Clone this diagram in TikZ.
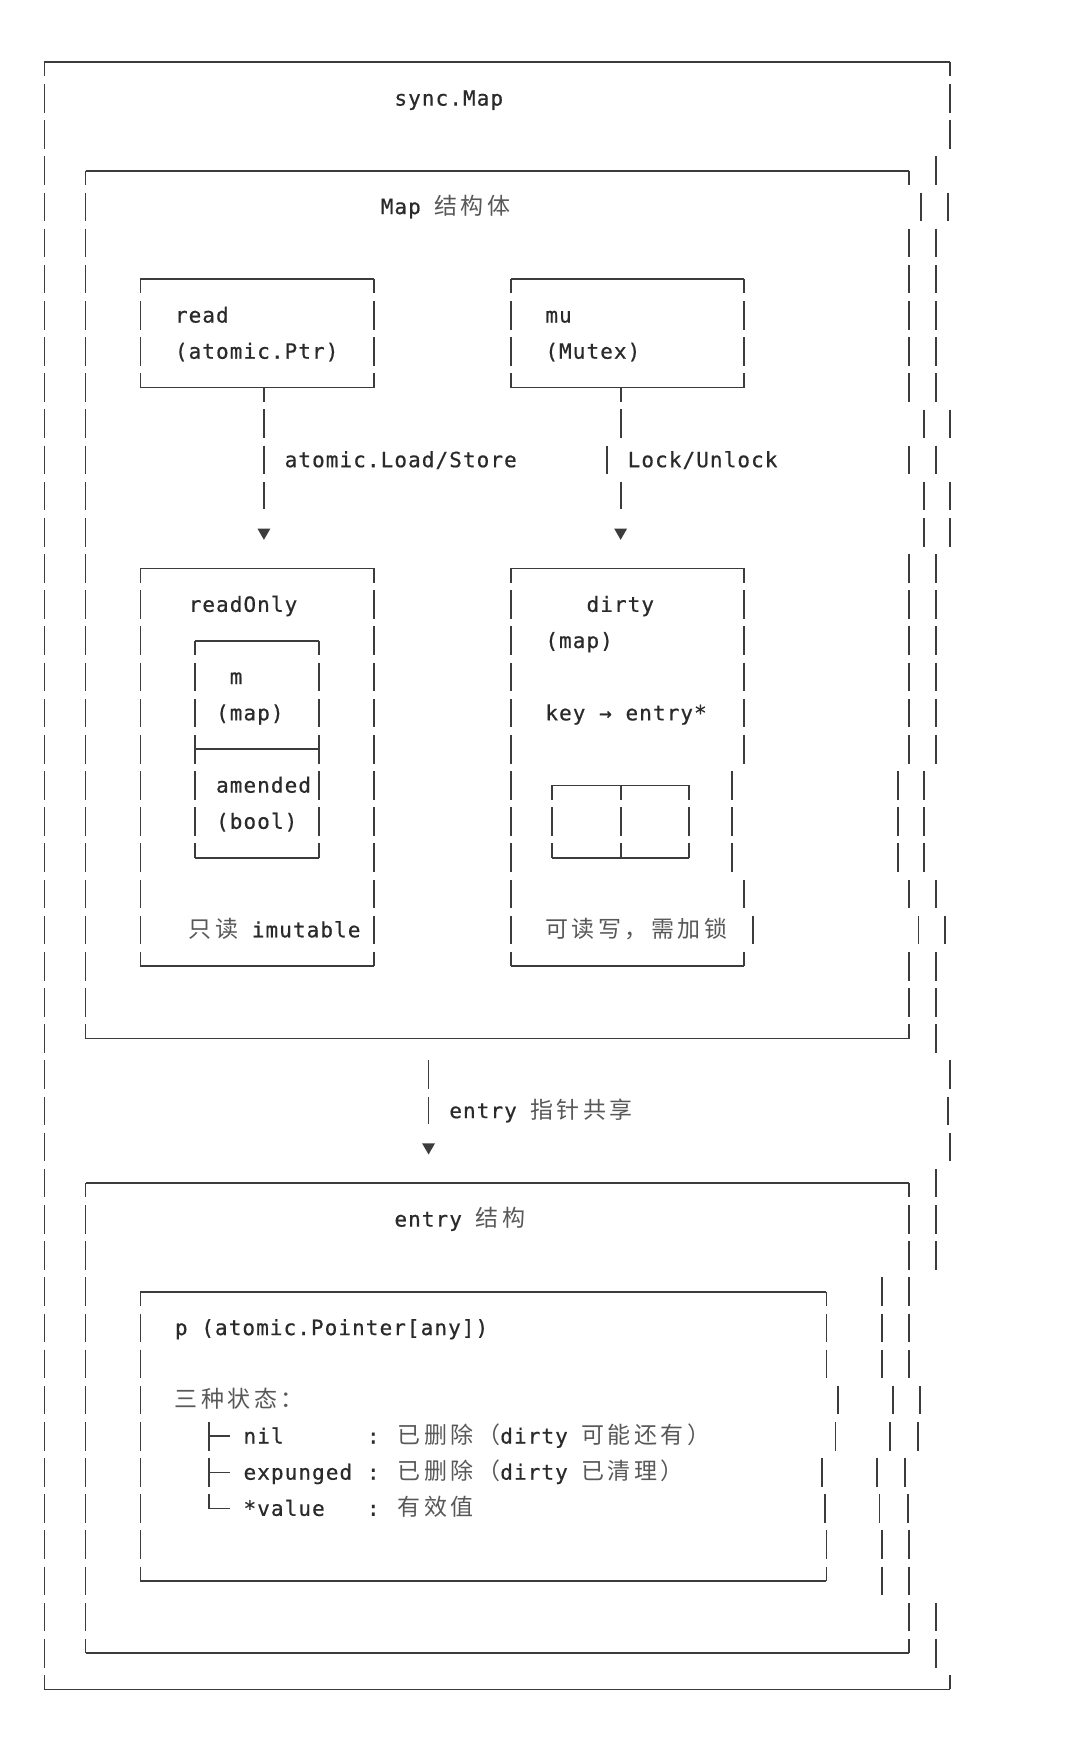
\documentclass[tikz,border=0pt]{standalone}
\usepackage{fontspec}
\usetikzlibrary{shapes.geometric}
\newfontfamily\monofont[LetterSpace=5.1, FakeBold=0.6]{DejaVu Sans Mono}
\newfontfamily\cjkfont[LetterSpace=15.0]{Noto Sans CJK SC}
\definecolor{InkGray}{HTML}{2A2A2A}
\definecolor{RuleGray}{HTML}{3C3C3C}
\definecolor{HanGray}{HTML}{585858}
\newcommand{\zh}[1]{{\cjkfont\fontsize{23pt}{23pt}\selectfont\color{HanGray}#1}}
% one ascii box: corners (x1,y1) and (x2,y2) in columns/rows
\newcommand{\plainbox}[4]{%
  \draw[boxline] (#1,#2) -- (#3,#2) (#1,#4) -- (#3,#4);
  \draw[vbar] (#1,#2) -- (#1,#4) (#3,#2) -- (#3,#4);}
\tikzset{
  boxline/.style={draw=RuleGray, line width=1.7pt},
  barseg/.style={draw=RuleGray, line width=1.7pt},
  vbar/.style={boxline, dash pattern=on 28.6pt off 7.56pt, dash phase=14.3pt},
  vrun/.style={boxline, dash pattern=on 28.6pt off 7.56pt, dash phase=32.38pt},
  monotext/.style={anchor=base west, inner sep=0pt, text=InkGray, font=\monofont\fontsize{21pt}{21pt}\selectfont},
  tiphead/.style={regular polygon, regular polygon sides=3, shape border rotate=180, fill=RuleGray, draw=none, inner sep=0pt, minimum size=15pt}
}

\begin{document}
\begin{tikzpicture}[x=13.72pt, y=-36.16pt]
\useasboundingbox (-3.2362,-1.7201) rectangle (75.481,46.427);

% outer box
\draw[boxline] (0,0) -- (66,0) (0,45) -- (66,45);
\draw[vbar] (0,0) -- (0,45);
\draw[vbar] (66,0) -- (66,2.5);
\draw[vrun] (65,2.5) -- (65,3.5);
\draw[vrun] (65,4.5) -- (65,9.5);
\draw[vrun] (66,11.5) -- (66,13.5);
\draw[vrun] (65,13.5) -- (65,19.5);
\draw[vrun] (64.1,19.5) -- (64.1,22.5);
\draw[vrun] (65,24.5) -- (65,27.5);
\draw[vrun] (65,30.5) -- (65,33.5);
\draw[vrun] (63.03,33.5) -- (63.03,36.5);
\draw[vrun] (63.03,40.5) -- (63.03,42.5);
\draw[vrun] (65,42.5) -- (65,44.5);
\draw[barseg] (66,44.605) -- (66,45);
\foreach \c/\r in {65.86/4, 66/10, 65/11, 65/23, 65.65/24, 66/28, 65.86/29, 66/30, 63.8/37, 63.66/38, 62.73/39, 62.92/40}
  \draw[barseg] (\c,\r-0.395) -- (\c,\r+0.395);

% Map box
\draw[boxline] (3,3) -- (63,3) (3,27) -- (63,27);
\draw[vbar] (3,3) -- (3,27);
\draw[vbar] (63,3) -- (63,3.5);
\draw[vrun] (63,4.5) -- (63,9.5);
\draw[vrun] (64.1,11.5) -- (64.1,13.5);
\draw[vrun] (63,13.5) -- (63,19.5);
\draw[vrun] (62.2,19.5) -- (62.2,22.5);
\draw[vrun] (63,24.5) -- (63,27);
\foreach \c/\r in {63.9/4, 64.1/10, 63/11, 63/23, 63.7/24}
  \draw[barseg] (\c,\r-0.395) -- (\c,\r+0.395);

\plainbox{7}{6}{24}{9}
\plainbox{34}{6}{51}{9}
\plainbox{7}{14}{24}{25}
\plainbox{11}{16}{20}{22}
\draw[boxline] (11,19) -- (20,19);

% dirty box
\draw[boxline] (34,14) -- (51,14) (34,25) -- (51,25);
\draw[vbar] (34,14) -- (34,25);
\draw[vbar] (51,14) -- (51,19.5);
\draw[vrun] (50.1,19.5) -- (50.1,22.5);
\draw[vrun] (51,24.5) -- (51,25);
\foreach \c/\r in {51/23, 51.67/24}
  \draw[barseg] (\c,\r-0.395) -- (\c,\r+0.395);
\plainbox{37}{20}{42}{22}
\plainbox{42}{20}{47}{22}

% entry box
\draw[boxline] (3,31) -- (63,31) (3,44) -- (63,44);
\draw[vbar] (3,31) -- (3,44);
\draw[vbar] (63,31) -- (63,33.5);
\draw[vrun] (61.03,33.5) -- (61.03,36.5);
\draw[vrun] (61.03,40.5) -- (61.03,42.5);
\draw[vrun] (63,42.5) -- (63,44);
\foreach \c/\r in {61.83/37, 61.63/38, 60.7/39, 60.86/40}
  \draw[barseg] (\c,\r-0.395) -- (\c,\r+0.395);

% p box
\draw[boxline] (7,34) -- (57,34) (7,42) -- (57,42);
\draw[vbar] (7,34) -- (7,42);
\draw[vbar] (57,34) -- (57,36.5);
\draw[vrun] (57,40.5) -- (57,42);
\foreach \c/\r in {57.82/37, 57.65/38, 56.69/39, 56.9/40}
  \draw[barseg] (\c,\r-0.395) -- (\c,\r+0.395);

% state tree
\draw[boxline] (12,37.605) -- (12,38.395) (12,38) -- (13.5,38);
\draw[boxline] (12,38.605) -- (12,39.395) (12,39) -- (13.5,39);
\draw[boxline] (12,39.605) -- (12,40) -- (13.5,40);

% arrows
\node[tiphead] (headA) at (16,13) {};
\node[tiphead] (headB) at (42,13) {};
\node[tiphead] (headC) at (28,30) {};
\coordinate (readfoot) at (16,9);
\coordinate (mufoot) at (42,9);
\coordinate (mapfoot) at (28,27.5);
\draw[vbar, shorten >=19.1pt] (readfoot) -- (headA);
\draw[vbar] (mufoot) -- (42,10.5);
\draw[barseg] (41,10.605) -- (41,11.395);
\draw[vrun, shorten >=19.1pt] (42,11.5) -- (headB);
\draw[vrun, shorten >=19.1pt] (mapfoot) -- (headC);

% texts
\node[monotext] (title) at (25.5,1.2) {sync.Map};
\node[monotext] (maptitle) at (24.5,4.2) {Map \zh{结构体}};
\node[monotext] (readname) at (9.5,7.2) {read};
\node[monotext] (readtype) at (9.5,8.2) {(atomic.Ptr)};
\node[monotext] (muname) at (36.5,7.2) {mu};
\node[monotext] (mutype) at (36.5,8.2) {(Mutex)};
\node[monotext] (loadlbl) at (17.5,11.2) {atomic.Load/Store};
\node[monotext] (locklbl) at (42.5,11.2) {Lock/Unlock};
\node[monotext] (roname) at (10.5,15.2) {readOnly};
\node[monotext] (mname) at (13.5,17.2) {m};
\node[monotext] (mtype) at (12.5,18.2) {(map)};
\node[monotext] (amname) at (12.5,20.2) {amended};
\node[monotext] (amtype) at (12.5,21.2) {(bool)};
\node[monotext] (ronote) at (10.5,24.2) {\zh{只读} imutable};
\node[monotext] (dirtyname) at (39.5,15.2) {dirty};
\node[monotext] (dirtytype) at (36.5,16.2) {(map)};
\node[monotext] (dirtykv) at (36.5,18.2) {key → entry*};
\node[monotext] (dirtynote) at (36.5,24.2) {\zh{可读写，需加锁}};
\node[monotext] (sharelbl) at (29.5,29.2) {entry \zh{指针共享}};
\node[monotext] (entrytitle) at (25.5,32.2) {entry \zh{结构}};
\node[monotext] (pname) at (9.5,35.2) {p (atomic.Pointer[any])};
\node[monotext] (states) at (9.5,37.2) {\zh{三种状态：}};
\node[monotext] (stnil) at (14.5,38.2) {nil};
\node[monotext] (stexp) at (14.5,39.2) {expunged};
\node[monotext] (stval) at (14.5,40.2) {*value};
\node[monotext] (dnil) at (23.5,38.2) {: \zh{已删除（}dirty \zh{可能还有）}};
\node[monotext] (dexp) at (23.5,39.2) {: \zh{已删除（}dirty \zh{已清理）}};
\node[monotext] (dval) at (23.5,40.2) {: \zh{有效值}};
\end{tikzpicture}
\end{document}
